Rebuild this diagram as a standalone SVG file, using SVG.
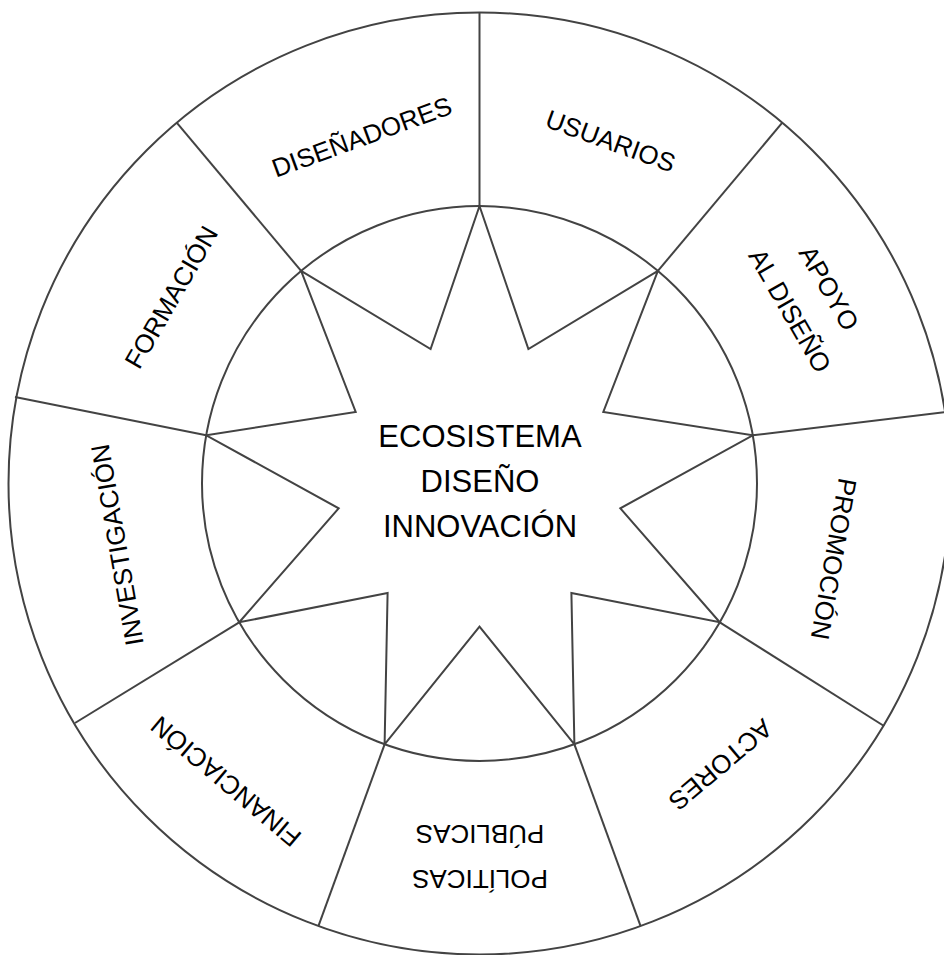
<svg xmlns="http://www.w3.org/2000/svg" width="944" height="955" viewBox="0 0 944 955">
<style>
.ln{fill:none;stroke:#434343;stroke-width:2;stroke-linejoin:miter}
.lb{font-family:"Liberation Sans",Arial,sans-serif;font-size:26px;fill:#000;text-anchor:middle}
.ct{font-family:"Liberation Sans",Arial,sans-serif;font-size:31px;fill:#000;text-anchor:middle}
</style>
<rect width="944" height="955" fill="#fff"/>
<g id="frame">
<circle class="ln" cx="479.5" cy="483.5" r="471"/>
<circle class="ln" cx="479.5" cy="483.5" r="277.5"/>
</g>
<g id="connectors">
<line class="ln" x1="479.5" y1="206" x2="479.5" y2="12.5"/>
<line class="ln" x1="657.9" y1="270.9" x2="782.3" y2="122.7"/>
<line class="ln" x1="752.8" y1="435.3" x2="946" y2="412"/>
<line class="ln" x1="719.8" y1="622.3" x2="884" y2="726"/>
<line class="ln" x1="574.4" y1="744.3" x2="640.6" y2="926.1"/>
<line class="ln" x1="384.6" y1="744.3" x2="318.4" y2="926.1"/>
<line class="ln" x1="239.2" y1="622.3" x2="75" y2="723"/>
<line class="ln" x1="206.2" y1="435.3" x2="15" y2="397"/>
<line class="ln" x1="301.1" y1="270.9" x2="176.7" y2="122.7"/>
</g>
<g id="center">
<polygon class="ln" points="479.5,206 528.4,349.1 657.9,270.9 603.3,412 752.8,435.3 620.3,508.3 719.8,622.3 571.4,593 574.4,744.3 479.5,626.5 384.6,744.3 387.6,593 239.2,622.3 338.7,508.3 206.2,435.3 355.7,412 301.1,270.9 430.6,349.1"/>
<text class="ct" x="480" y="446.7">ECOSISTEMA</text>
<text class="ct" x="480" y="492">DISEÑO</text>
<text class="ct" x="480" y="537.3">INNOVACIÓN</text>
</g>
<g id="usuarios" transform="translate(610.7,140.7) rotate(20)"><text class="lb" x="0" y="9.3">USUARIOS</text></g>
<g id="apoyo" transform="translate(809.8,299.2) rotate(60)"><text class="lb" x="0" y="-13.2">APOYO</text><text class="lb" x="0" y="31.8">AL DISEÑO</text></g>
<g id="promocion" transform="translate(834,559) rotate(100)"><text class="lb" x="0" y="9.3">PROMOCIÓN</text></g>
<g id="actores" transform="translate(720.7,765) rotate(140)"><text class="lb" x="0" y="9.3">ACTORES</text></g>
<g id="politicas" transform="translate(480,856.5) rotate(180)"><text class="lb" x="0" y="-13.2">POLÍTICAS</text><text class="lb" x="0" y="31.8">PÚBLICAS</text></g>
<g id="financiacion" transform="translate(225.7,781.7) rotate(220)"><text class="lb" x="0" y="9.3">FINANCIACIÓN</text></g>
<g id="investigacion" transform="translate(117,545) rotate(260)"><text class="lb" x="0" y="9.3">INVESTIGACIÓN</text></g>
<g id="formacion" transform="translate(171,297) rotate(300)"><text class="lb" x="0" y="9.3">FORMACIÓN</text></g>
<g id="disenadores" transform="translate(361.7,136.7) rotate(340)"><text class="lb" x="0" y="9.3">DISEÑADORES</text></g>
</svg>
